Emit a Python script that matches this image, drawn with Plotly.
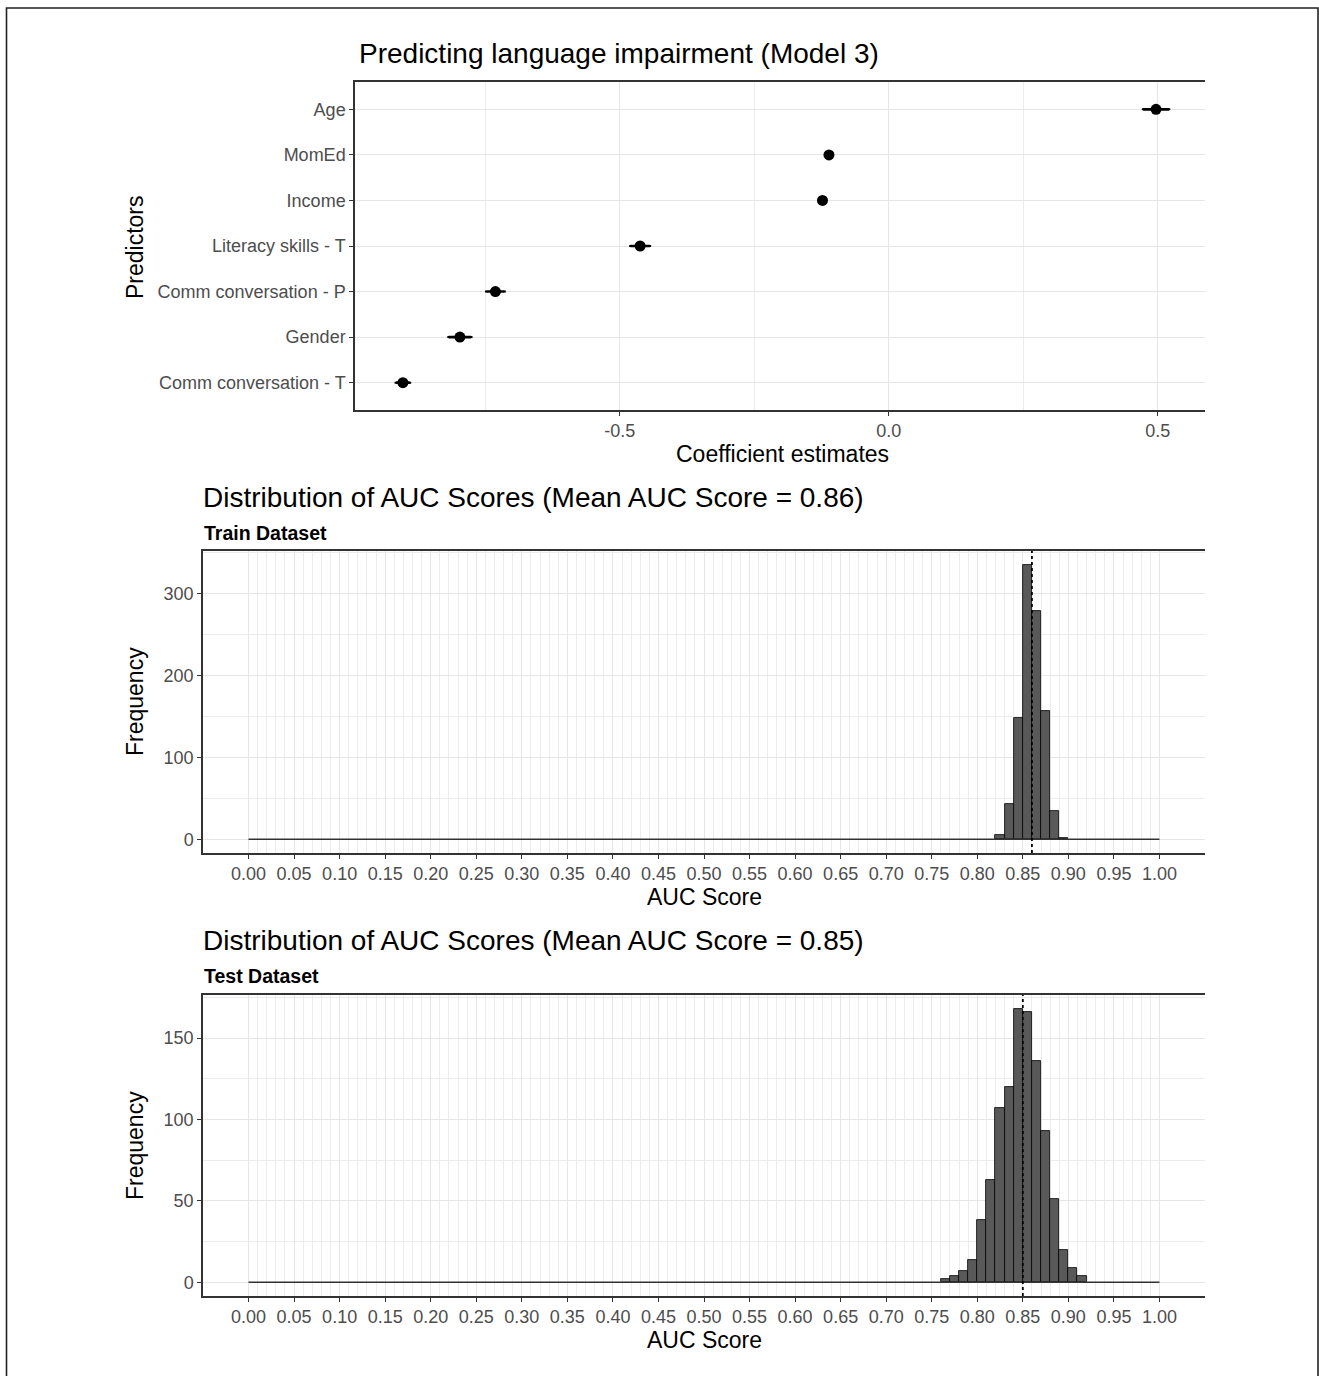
import numpy as np
import plotly.graph_objects as go

W, H = 1319, 1376

# ---------------- data ----------------
predictors = ["Age", "MomEd", "Income", "Literacy skills - T",
              "Comm conversation - P", "Gender", "Comm conversation - T"]
coef = [0.497, -0.111, -0.123, -0.462, -0.731, -0.797, -0.903]
coef_err = [0.024, 0.006, 0.006, 0.018, 0.017, 0.021, 0.013]
coef_ticks = [-0.5, 0.0, 0.5]
coef_tick_text = ["-0.5", "0.0", "0.5"]
coef_minor = [-0.75, -0.25, 0.25]

bin_width = 0.01
hist_range = [0.0, 1.0]

train_bin_lo = [0.82, 0.83, 0.84, 0.85, 0.86, 0.87, 0.88, 0.89]
train_counts = [5, 43, 148, 335, 278, 156, 35, 2]
train_mean = 0.86

test_bin_lo = [0.76, 0.77, 0.78, 0.79, 0.80, 0.81, 0.82, 0.83,
               0.84, 0.85, 0.86, 0.87, 0.88, 0.89, 0.90, 0.91]
test_counts = [2, 4, 7, 14, 38, 63, 107, 120, 168, 166, 136, 93, 51, 20, 9, 4]
test_mean = 0.85

auc_ticks = [round(v, 2) for v in np.arange(0, 1.0001, 0.05)]
auc_tick_text = [f"{v:.2f}" for v in auc_ticks]

# ---------------- helpers ----------------
def px_x(x):
    return x / W

def px_y(y):
    return 1 - y / H

FONT = "Liberation Sans, Arial, sans-serif"
TICK_FONT = dict(family=FONT, size=18, color="#4d4d4d")
GRID = "#e6e6e6"
GRID_MINOR = "#ececec"
AXIS_LINE = "#333333"

fig = go.Figure()

# ---------------- panel 1: coefficients ----------------
fig.add_trace(go.Scatter(
    x=coef, y=predictors, mode="markers",
    marker=dict(color="black", size=11),
    error_x=dict(type="data", array=coef_err, color="black", thickness=2.6, width=1),
    xaxis="x", yaxis="y", showlegend=False,
))

# ---------------- panel 2 & 3: histograms ----------------
def add_hist(bin_lo, counts, xa, ya):
    fig.add_trace(go.Scatter(
        x=hist_range, y=[0, 0], mode="lines",
        line=dict(color="#333333", width=1.6),
        xaxis=xa, yaxis=ya, showlegend=False, hoverinfo="skip",
    ))
    centers = [lo + bin_width / 2 for lo in bin_lo]
    fig.add_trace(go.Bar(
        x=centers, y=counts, width=bin_width,
        marker=dict(color="#595959", line=dict(color="black", width=0.8)),
        xaxis=xa, yaxis=ya, showlegend=False,
    ))

add_hist(train_bin_lo, train_counts, "x2", "y2")
add_hist(test_bin_lo, test_counts, "x3", "y3")

minor_grid_vals = [round(v, 2) for v in np.arange(hist_range[0], hist_range[1] + 1e-9, bin_width)]

def hist_xaxis(domain, anchor):
    return dict(
        domain=domain, anchor=anchor, range=[-0.05, 1.05],
        tickmode="array", tickvals=auc_ticks, ticktext=auc_tick_text,
        tickfont=TICK_FONT, ticks="outside", ticklen=4, tickwidth=1.2, tickcolor=AXIS_LINE,
        showline=True, linecolor=AXIS_LINE, linewidth=1.5, mirror=True,
        showgrid=True, gridcolor=GRID, gridwidth=1.2,
        minor=dict(tickmode="array", tickvals=minor_grid_vals, showgrid=True,
                   gridcolor=GRID_MINOR, gridwidth=1.2, ticks=""),
        zeroline=False,
    )

def hist_yaxis(domain, anchor, rng, dtick):
    return dict(
        domain=domain, anchor=anchor, range=rng,
        tickmode="linear", tick0=0, dtick=dtick,
        tickfont=TICK_FONT, ticks="outside", ticklen=4, tickwidth=1.2, tickcolor=AXIS_LINE,
        showline=True, linecolor=AXIS_LINE, linewidth=1.5,
        showgrid=True, gridcolor=GRID, gridwidth=1.2,
        minor=dict(tick0=0, dtick=dtick / 2, showgrid=True, gridcolor=GRID_MINOR,
                   gridwidth=1.2, ticks=""),
        zeroline=False,
    )

x1_dom = [px_x(355), px_x(1205)]
y1_dom = [px_y(410), px_y(82)]
x2_dom = [px_x(203), px_x(1205)]
y2_dom = [px_y(853), px_y(551)]
y3_dom = [px_y(1296), px_y(995)]

train_max = max(train_counts)
test_max = max(test_counts)

fig.update_layout(
    width=W, height=H,
    margin=dict(l=0, r=0, t=0, b=0, autoexpand=False),
    paper_bgcolor="white", plot_bgcolor="white",
    bargap=0,
    xaxis=dict(
        domain=x1_dom, anchor="y", range=[-0.992, 0.588],
        tickmode="array", tickvals=coef_ticks, ticktext=coef_tick_text,
        tickfont=TICK_FONT, ticks="outside", ticklen=4, tickwidth=1.2, tickcolor=AXIS_LINE,
        showline=True, linecolor=AXIS_LINE, linewidth=1.5, mirror=True,
        showgrid=True, gridcolor=GRID, gridwidth=1.2,
        minor=dict(tickmode="array", tickvals=coef_minor, showgrid=True,
                   gridcolor=GRID_MINOR, gridwidth=1.2, ticks=""),
        zeroline=False,
    ),
    yaxis=dict(
        domain=y1_dom, anchor="x", type="category",
        categoryorder="array", categoryarray=predictors[::-1],
        range=[-0.6, len(predictors) - 0.4],
        tickfont=TICK_FONT, ticks="outside", ticklen=4, tickwidth=1.2, tickcolor=AXIS_LINE,
        showline=True, linecolor=AXIS_LINE, linewidth=1.5,
        showgrid=True, gridcolor=GRID, gridwidth=1.2, zeroline=False,
    ),
    xaxis2=hist_xaxis(x2_dom, "y2"),
    yaxis2=hist_yaxis(y2_dom, "x2", [-0.05 * train_max, 1.05 * train_max], 100),
    xaxis3=hist_xaxis(x2_dom, "y3"),
    yaxis3=hist_yaxis(y3_dom, "x3", [-0.05 * test_max, 1.05 * test_max], 50),
)

# mean lines
for xa, ya, m in [("x2", "y2", train_mean), ("x3", "y3", test_mean)]:
    fig.add_shape(type="line", xref=xa, yref=f"{ya} domain", x0=m, x1=m, y0=0, y1=1,
                  line=dict(color="black", width=1.8, dash="dot"), layer="above")

# outer frame
fig.add_shape(type="rect", xref="paper", yref="paper",
              x0=px_x(6.5), x1=px_x(1318), y0=-0.02, y1=px_y(8),
              line=dict(color="#222222", width=1.6), fillcolor="rgba(0,0,0,0)")

def txt(text, x, y, size, xanchor="left", bold=False, angle=0, color="black"):
    fig.add_annotation(
        text=f"<b>{text}</b>" if bold else text,
        x=px_x(x), y=px_y(y), xref="paper", yref="paper",
        xanchor=xanchor, yanchor="middle", showarrow=False, textangle=angle,
        font=dict(family=FONT, size=size, color=color),
    )

# titles
txt("Predicting language impairment (Model 3)", 357, 54, 28)
txt(f"Distribution of AUC Scores (Mean AUC Score = {train_mean:.2f})", 201, 497, 28)
txt("Train Dataset", 202, 533, 19.5, bold=True)
txt(f"Distribution of AUC Scores (Mean AUC Score = {test_mean:.2f})", 201, 940, 28)
txt("Test Dataset", 202, 976, 19.5, bold=True)

# axis titles
txt("Coefficient estimates", 782, 454, 23, xanchor="center")
txt("Predictors", 135, 247, 23, xanchor="center", angle=-90)
txt("AUC Score", 704, 897, 23, xanchor="center")
txt("Frequency", 135, 702, 23, xanchor="center", angle=-90)
txt("AUC Score", 704, 1340, 23, xanchor="center")
txt("Frequency", 135, 1146, 23, xanchor="center", angle=-90)

fig.write_html("out.html", config={"displayModeBar": False},
               post_script="document.body.style.margin='0';document.body.style.overflow='hidden';")
